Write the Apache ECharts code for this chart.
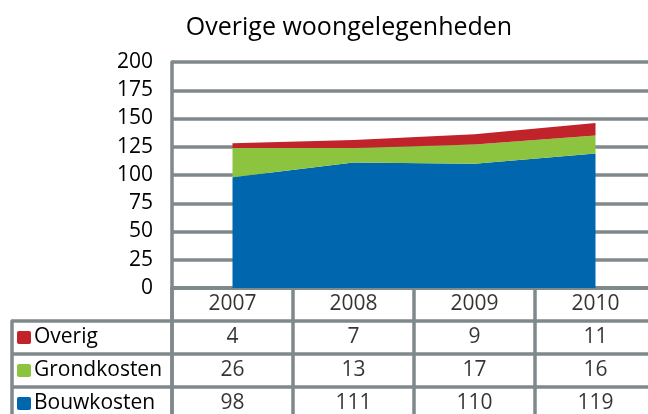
<!DOCTYPE html>
<html>
<head>
<meta charset="utf-8">
<script src="https://cdn.jsdelivr.net/npm/echarts@6/dist/echarts.min.js"></script>
<style>
  html, body { margin: 0; padding: 0; background: #fff; }
  #chart { width: 648px; height: 414px; }
</style>
</head>
<body>
<div id="chart"></div>
<script>
const jaren = ["2007", "2008", "2009", "2010"];
const bouwkosten = [98, 111, 110, 119];
const grondkosten = [26, 13, 17, 16];
const overig = [4, 7, 9, 11];
const rijen = ["jaar", "Overig", "Grondkosten", "Bouwkosten"];

const kleuren = { Overig: "#c1232b", Grondkosten: "#8cc43f", Bouwkosten: "#0066ae" };
const grijs = "#7f898b";
const lijn = 3.5;
const font = "Open Sans";
const fs = 21;

const tabelData = [];
jaren.forEach((j, i) => {
  tabelData.push([j, "jaar", j]);
  tabelData.push([j, "Overig", overig[i]]);
  tabelData.push([j, "Grondkosten", grondkosten[i]]);
  tabelData.push([j, "Bouwkosten", bouwkosten[i]]);
});

const chart = echarts.init(document.getElementById("chart"));

const area = (name, data) => ({
  name,
  type: "line",
  stack: "totaal",
  data,
  showSymbol: false,
  symbol: "none",
  lineStyle: { width: 0, opacity: 0 },
  areaStyle: { color: kleuren[name], opacity: 1 },
  xAxisIndex: 0,
  yAxisIndex: 0,
  silent: true,
});

const vierkant = (c) => ({ width: 14, height: 13, backgroundColor: c, borderRadius: 2 });

chart.setOption({
  animation: false,
  textStyle: { fontFamily: font },
  title: {
    text: "Overige woongelegenheden",
    left: 344,
    top: 10,
    textAlign: "center",
    textStyle: { fontFamily: font, fontWeight: "normal", fontSize: 25, color: "#000" },
  },
  grid: [
    { left: 172, top: 62, width: 484, height: 226, outerBoundsMode: "none" },
    { left: 172, top: 288, width: 484, height: 132, outerBoundsMode: "none" },
    { left: 12, top: 321, width: 160, height: 99, outerBoundsMode: "none" },
  ],
  xAxis: [
    {
      gridIndex: 0,
      type: "category",
      data: jaren,
      boundaryGap: true,
      axisLine: { show: true, lineStyle: { color: grijs, width: lijn } },
      axisTick: { show: false },
      axisLabel: { show: false },
    },
    {
      gridIndex: 1,
      type: "category",
      data: jaren,
      axisLine: { show: false },
      axisTick: { show: false },
      axisLabel: { show: false },
      splitLine: { show: true, interval: 0, lineStyle: { color: grijs, width: lijn } },
    },
    {
      gridIndex: 2,
      type: "category",
      data: [""],
      show: false,
    },
  ],
  yAxis: [
    {
      gridIndex: 0,
      type: "value",
      min: 0,
      max: 200,
      interval: 25,
      axisLine: { show: true, lineStyle: { color: grijs, width: lijn } },
      axisTick: { show: false },
      axisLabel: { color: "#000", fontSize: fs, margin: 19, fontFamily: font },
      splitLine: { show: true, lineStyle: { color: grijs, width: lijn } },
    },
    {
      gridIndex: 1,
      type: "category",
      data: rijen,
      inverse: true,
      axisLine: { show: true, lineStyle: { color: grijs, width: lijn } },
      axisTick: { show: false },
      axisLabel: { show: false },
      splitLine: { show: true, interval: 0, lineStyle: { color: grijs, width: lijn } },
    },
    {
      gridIndex: 2,
      type: "category",
      data: rijen.slice(1),
      inverse: true,
      axisLine: { show: true, lineStyle: { color: grijs, width: lijn } },
      axisTick: { show: false },
      splitLine: { show: true, interval: 0, lineStyle: { color: grijs, width: lijn } },
      axisLabel: {
        inside: true,
        margin: 5,
        align: "left",
        fontSize: fs,
        color: "#000",
        formatter: (v) => `{${v}|}{t|${v}}`,
        rich: {
          Overig: vierkant(kleuren.Overig),
          Grondkosten: vierkant(kleuren.Grondkosten),
          Bouwkosten: vierkant(kleuren.Bouwkosten),
          t: { fontSize: fs, color: "#000", fontFamily: font, padding: [0, 0, 0, 3] },
        },
      },
    },
  ],
  series: [
    area("Bouwkosten", bouwkosten),
    area("Grondkosten", grondkosten),
    area("Overig", overig),
    {
      name: "tabel",
      type: "scatter",
      xAxisIndex: 1,
      yAxisIndex: 1,
      data: tabelData,
      symbolSize: 0,
      silent: true,
      label: {
        show: true,
        position: "inside",
        fontSize: fs,
        color: "#000",
        fontFamily: font,
        formatter: (p) => String(p.data[2]),
      },
    },
  ],
});
</script>
</body>
</html>
